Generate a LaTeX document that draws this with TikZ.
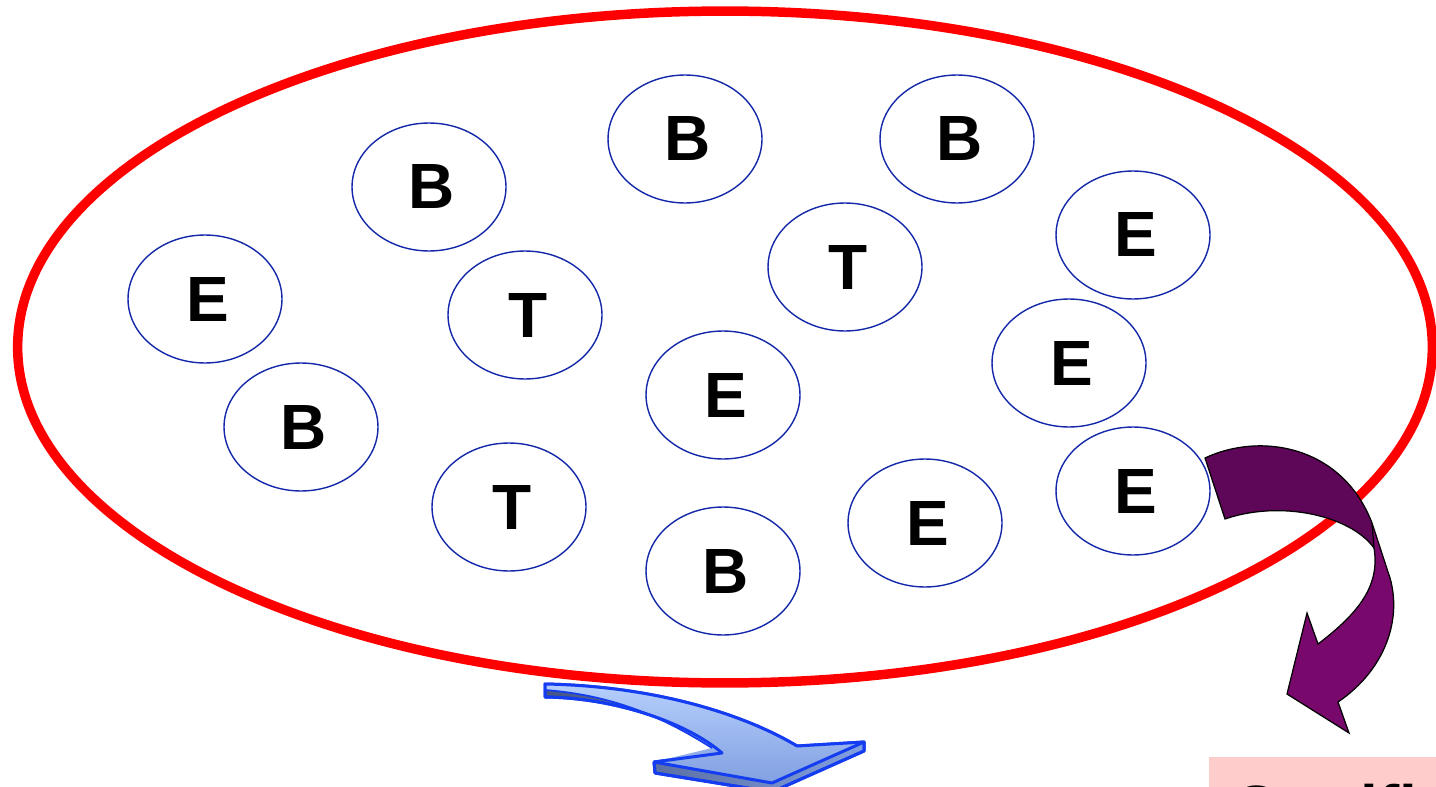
\documentclass[tikz,border=0pt]{standalone}
\usepackage{fontspec}
\setmainfont{Liberation Sans}
\usetikzlibrary{shapes.geometric}
\definecolor{ringred}{RGB}{255,0,0}
\definecolor{bubblue}{RGB}{20,40,170}
\definecolor{plumdark}{RGB}{94,6,88}
\definecolor{plum}{RGB}{120,8,108}
\definecolor{arrowedge}{RGB}{20,60,240}
\definecolor{facelight}{RGB}{168,198,252}
\definecolor{facemid}{RGB}{130,160,225}
\definecolor{facedark}{RGB}{70,85,130}
\definecolor{pinkbg}{RGB}{255,204,204}
\begin{document}
\begin{tikzpicture}[x=0.02cm,y=-0.02cm,
  bub/.style={ellipse, draw=bubblue, line width=0.8pt, minimum width=3.08cm,
    minimum height=2.56cm, inner sep=0pt, font=\fontsize{36.4}{40}\selectfont\bfseries,
    execute at begin node=\hspace*{0.12cm}},
  ring/.style={ellipse, draw=ringred, line width=5.4pt, minimum width=28.3cm,
    minimum height=13.44cm, inner sep=0pt},
  bluearrow/.style={draw=arrowedge, line width=1.7pt, line join=round},
  plumarrow/.style={draw=black, line width=0.7pt, line join=miter},
  certbox/.style={fill=pinkbg, anchor=north west, inner xsep=0.46cm, inner ysep=0.38cm,
    minimum width=5cm, minimum height=2cm, align=left, text depth=0pt,
    font=\fontsize{36.4}{40}\selectfont\bfseries}]
\useasboundingbox (0,0) rectangle (1436,787);
\clip (0,0) rectangle (1436,787);

% the large pool
\node[ring] (pool) at (725,347) {};

% members of the pool
\node[bub] (b1) at (429,187) {B};
\node[bub] (b2) at (685,139) {B};
\node[bub] (b3) at (957,139) {B};
\node[bub] (e1) at (205,299) {E};
\node[bub] (t1) at (525,315) {T};
\node[bub] (t2) at (845,267) {T};
\node[bub] (e2) at (1133,235) {E};
\node[bub] (e3) at (1069,363) {E};
\node[bub] (e4) at (723,395) {E};
\node[bub] (b4) at (301,427) {B};
\node[bub] (t3) at (509,507) {T};
\node[bub] (b5) at (723,571) {B};
\node[bub] (e5) at (925,523) {E};
\node[bub] (e6) at (1133,491) {E};

% certificate box, cut by the page edge
\node[certbox] (cert) at (1209,757) {Certified};

% curved purple arrow leaving the pool
\fill[plum] (1372,523) -- (1390,578) .. controls (1402,620) and (1385,670) .. (1338,702)
  -- (1349,733) -- (1287,694) -- (1307,613) -- (1318,644)
  .. controls (1360,612) and (1380,585) .. (1374,548) -- cycle;
\draw[plumarrow] (1372,523) -- (1390,578) .. controls (1402,620) and (1385,670) .. (1338,702)
  -- (1349,733) -- (1287,694) -- (1307,613) -- (1318,644)
  .. controls (1360,612) and (1380,585) .. (1374,548);
\filldraw[plumarrow, fill=plumdark] (1205,458) .. controls (1260,432) and (1342,445) .. (1372,523)
  -- (1374,548) .. controls (1350,515) and (1280,500) .. (1225,519) -- cycle;

% 3-D blue arrow below the pool
\shade[bluearrow, left color=facedark, right color=facemid]
  (545,684) .. controls (650,686) and (740,712) .. (797,746) -- (864,742) -- (864,751)
  -- (772,792) -- (655,773) -- (654,762) -- (722,753)
  .. controls (690,725) and (620,698) .. (545,697) -- cycle;
\shade[top color=facelight!85!white, bottom color=facemid]
  (545,684) .. controls (650,686) and (740,712) .. (797,746) -- (864,742) -- (772,783)
  -- (654,762) -- (712,748) .. controls (660,715) and (610,695) .. (545,690) -- cycle;
\draw[bluearrow]
  (545,684) .. controls (650,686) and (740,712) .. (797,746) -- (864,742) -- (864,751)
  -- (772,792) -- (655,773) -- (654,762) -- (722,753)
  .. controls (690,725) and (620,698) .. (545,697) -- cycle;
\draw[bluearrow] (864,742) -- (772,783) -- (654,762);
\draw[bluearrow, line width=1pt] (712,748) .. controls (660,715) and (610,695) .. (545,690);
\end{tikzpicture}
\end{document}
